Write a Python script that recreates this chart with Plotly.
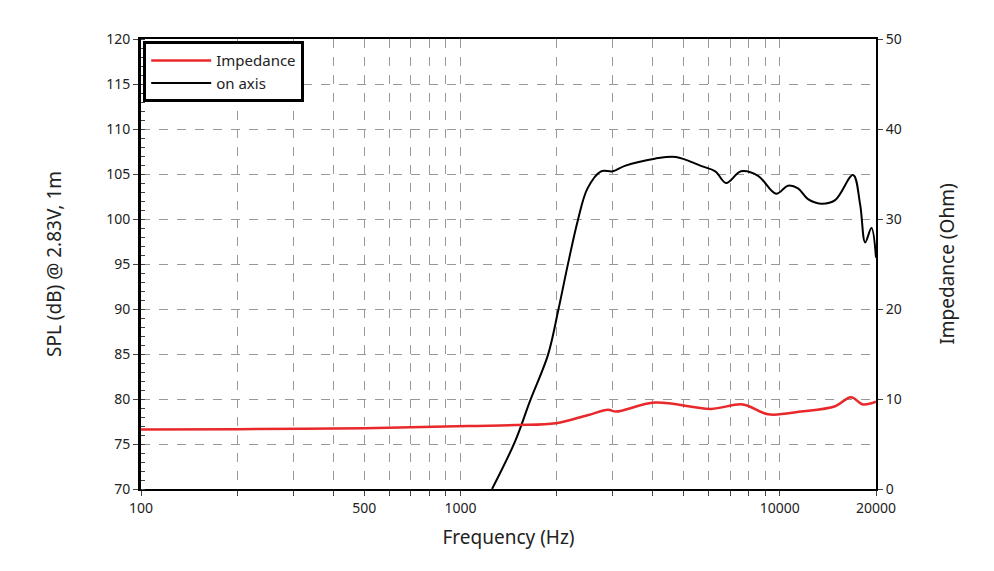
import plotly.graph_objects as go

# on-axis SPL (dB)
spl_f = [1256, 1483, 1652, 1880, 2023, 2168, 2333, 2500, 2755, 3000, 3270, 4060, 4730,
         5660, 6280, 6790, 7560, 8550, 9730, 10610, 11400, 12250, 13450, 14900,
         16950, 17840, 18500, 19350, 20000]
spl_db = [70.0, 75.3, 79.8, 84.9, 89.8, 94.9, 99.9, 103.4, 105.3, 105.3, 105.9, 106.7, 106.9,
          105.9, 105.3, 104.0, 105.3, 104.8, 102.8, 103.7, 103.4, 102.2, 101.7, 102.1,
          104.9, 101.6, 97.4, 99.0, 95.7]

# impedance (Ohm)
imp_f = [100, 200, 500, 1057, 1500, 1990, 2500, 2900, 3070, 4060, 6080, 7660, 9190,
         11640, 14900, 16700, 18200, 20000]
imp_ohm = [6.6, 6.65, 6.75, 7.0, 7.1, 7.3, 8.2, 8.8, 8.6, 9.6, 8.9, 9.4, 8.3,
           8.6, 9.2, 10.2, 9.4, 9.7]

grid = dict(showgrid=True, gridcolor="#999", griddash="dash", gridwidth=1)
fnt = dict(family="Noto Sans", size=14, color="#222")

fig = go.Figure()
fig.add_trace(go.Scatter(x=imp_f, y=imp_ohm, name="Impedance", yaxis="y2", mode="lines",
                         line=dict(color="#e8282a", width=2.5, shape="spline")))
fig.add_trace(go.Scatter(x=spl_f, y=spl_db, name="on axis", mode="lines",
                         line=dict(color="black", width=2, shape="spline")))

fig.update_layout(
    width=994, height=571, margin=dict(l=133, r=126, t=31, b=90, autoexpand=False),
    paper_bgcolor="white", plot_bgcolor="white", font=fnt,
    xaxis=dict(type="log", range=[2, 4.30103], automargin=False,
               title=dict(text="Frequency (Hz)", font=dict(size=19)),
               tickvals=[100, 500, 1000, 10000, 20000], ticktext=["100", "500", "1000", "10000", "20000"],
               ticks="outside", ticklen=5, showline=True, linecolor="black", linewidth=2, mirror=True,
               minor=dict(tickvals=[200, 300, 400, 600, 700, 800, 900, 2000, 3000, 4000, 5000,
                                    6000, 7000, 8000, 9000], showgrid=True, gridcolor="#999",
                          griddash="dash", ticks="outside", ticklen=5),
               **grid),
    yaxis=dict(range=[70, 120], dtick=5, automargin=False,
               title=dict(text="SPL (dB) @ 2.83V, 1m", font=dict(size=19), standoff=40),
               ticks="outside", ticklen=5, showline=True, linecolor="black", linewidth=3,
               minor=dict(dtick=1, ticks="inside", ticklen=4), **grid),
    yaxis2=dict(range=[0, 50], dtick=10, overlaying="y", side="right", showgrid=False, automargin=False,
                title=dict(text="Impedance (Ohm)", font=dict(size=19), standoff=40),
                ticks="outside", ticklen=5, showline=True, linecolor="black", linewidth=2),
    legend=dict(x=0.003, y=0.995, xanchor="left", yanchor="top", bgcolor="white",
                bordercolor="black", borderwidth=3, font=dict(size=15), tracegroupgap=0,
                itemwidth=60),
    showlegend=True,
)

fig.write_html("out.html")
